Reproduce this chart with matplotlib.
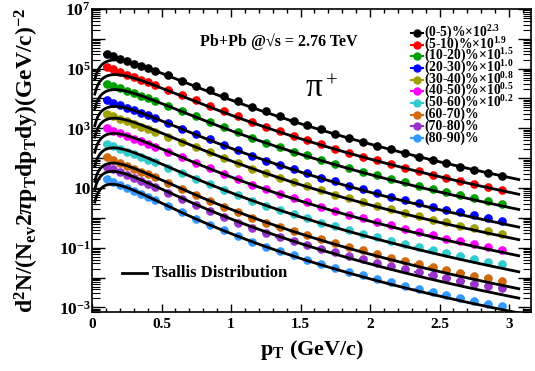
import numpy as np
import matplotlib
matplotlib.use('Agg')
import matplotlib.pyplot as plt
from matplotlib.ticker import LogLocator, MultipleLocator, FuncFormatter

plt.rcParams['font.family'] = 'Liberation Serif'
plt.rcParams['font.weight'] = 'bold'
plt.rcParams['axes.labelweight'] = 'bold'
plt.rcParams['mathtext.fontset'] = 'custom'
plt.rcParams['mathtext.rm'] = 'Liberation Serif:bold'
plt.rcParams['mathtext.bf'] = 'Liberation Serif:bold'
plt.rcParams['mathtext.it'] = 'Liberation Serif:bold:italic'

# pT bin centres (GeV/c)
pt = [0.11, 0.15, 0.20, 0.25, 0.30, 0.35, 0.40, 0.45, 0.55, 0.65, 0.75, 0.85, 0.95,
      1.05, 1.15, 1.25, 1.35, 1.45, 1.55, 1.65, 1.75, 1.85, 1.95, 2.05, 2.15, 2.25,
      2.35, 2.45, 2.55, 2.65, 2.75, 2.85, 2.95]

# log10 of the unscaled yields, one list per centrality class
y_0_5 = [3.18, 3.11, 3.03, 2.95, 2.87, 2.79, 2.71, 2.63, 2.47, 2.30, 2.13, 1.97, 1.79, 1.61, 1.43,
         1.27, 1.11, 0.96, 0.81, 0.67, 0.52, 0.38, 0.25, 0.12, -0.01, -0.13, -0.25, -0.37, -0.47,
         -0.59, -0.69, -0.79, -0.89]
y_5_10 = [3.14, 3.07, 2.98, 2.90, 2.81, 2.73, 2.64, 2.56, 2.39, 2.21, 2.04, 1.86, 1.69, 1.50, 1.32,
          1.16, 1.00, 0.85, 0.71, 0.56, 0.42, 0.28, 0.15, 0.03, -0.10, -0.22, -0.34, -0.46, -0.56,
          -0.67, -0.77, -0.87, -0.97]
y_10_20 = [3.00, 2.93, 2.84, 2.76, 2.67, 2.59, 2.50, 2.42, 2.25, 2.07, 1.90, 1.72, 1.55, 1.36, 1.18,
           1.02, 0.87, 0.72, 0.59, 0.44, 0.31, 0.17, 0.04, -0.07, -0.20, -0.31, -0.43, -0.54, -0.64,
           -0.74, -0.84, -0.93, -1.03]
y_20_30 = [2.94, 2.86, 2.78, 2.69, 2.60, 2.52, 2.43, 2.34, 2.17, 1.99, 1.81, 1.63, 1.45, 1.27, 1.08,
           0.92, 0.78, 0.63, 0.49, 0.35, 0.22, 0.08, -0.04, -0.16, -0.29, -0.40, -0.51, -0.62, -0.73,
           -0.82, -0.92, -1.01, -1.10]
y_30_40 = [2.67, 2.60, 2.51, 2.43, 2.34, 2.26, 2.17, 2.09, 1.92, 1.74, 1.57, 1.39, 1.22, 1.03, 0.85,
           0.70, 0.54, 0.40, 0.26, 0.12, -0.02, -0.15, -0.28, -0.39, -0.52, -0.63, -0.74, -0.86, -0.95,
           -1.06, -1.15, -1.25, -1.34]
y_40_50 = [2.50, 2.42, 2.33, 2.24, 2.15, 2.07, 1.98, 1.89, 1.71, 1.53, 1.34, 1.16, 0.98, 0.79, 0.61,
           0.45, 0.30, 0.16, 0.02, -0.12, -0.26, -0.39, -0.51, -0.64, -0.75, -0.87, -0.98, -1.09, -1.20,
           -1.29, -1.39, -1.48, -1.57]
y_50_60 = [2.29, 2.21, 2.12, 2.02, 1.93, 1.84, 1.75, 1.66, 1.48, 1.29, 1.10, 0.92, 0.74, 0.55, 0.36,
           0.21, 0.06, -0.08, -0.21, -0.36, -0.48, -0.61, -0.73, -0.85, -0.96, -1.08, -1.18, -1.29,
           -1.39, -1.49, -1.57, -1.67, -1.75]
y_60_70 = [2.03, 1.94, 1.85, 1.74, 1.65, 1.55, 1.46, 1.36, 1.17, 0.97, 0.76, 0.57, 0.38, 0.19, 0.00,
           -0.16, -0.30, -0.44, -0.58, -0.72, -0.85, -0.97, -1.09, -1.22, -1.33, -1.44, -1.54, -1.65,
           -1.76, -1.85, -1.94, -2.02, -2.11]
y_70_80 = [1.72, 1.63, 1.53, 1.43, 1.33, 1.23, 1.13, 1.03, 0.84, 0.63, 0.43, 0.23, 0.04, -0.16, -0.35,
           -0.50, -0.64, -0.77, -0.91, -1.04, -1.16, -1.28, -1.39, -1.50, -1.62, -1.73, -1.83, -1.93,
           -2.02, -2.11, -2.20, -2.28, -2.36]
y_80_90 = [1.29, 1.20, 1.10, 0.99, 0.89, 0.79, 0.69, 0.59, 0.39, 0.18, -0.03, -0.23, -0.42, -0.62,
           -0.81, -0.97, -1.12, -1.26, -1.40, -1.54, -1.67, -1.80, -1.92, -2.04, -2.16, -2.27, -2.38,
           -2.49, -2.59, -2.69, -2.78, -2.87, -2.96]

centralities = ['0-5', '5-10', '10-20', '20-30', '30-40', '40-50', '50-60', '60-70', '70-80', '80-90']
scale_exp = [2.3, 1.9, 1.5, 1.0, 0.8, 0.5, 0.2, 0, 0, 0]
series = [y_0_5, y_5_10, y_10_20, y_20_30, y_30_40, y_40_50, y_50_60, y_60_70, y_70_80, y_80_90]
colors = ['#000000', '#ff0000', '#00a000', '#0000ff', '#a0a000', '#ff00ff', '#33cccc',
          '#d06a10', '#9933cc', '#3399ff']

# Tsallis fit parameters per class
tsallis_T = [0.120, 0.118, 0.116, 0.113, 0.110, 0.107, 0.103, 0.099, 0.095, 0.090]
tsallis_q = [1.100, 1.102, 1.104, 1.106, 1.108, 1.110, 1.112, 1.114, 1.117, 1.120]
# log10 of the fitted (unscaled) yield at pT = 1.5 GeV/c
tsallis_level = [0.855, 0.75, 0.63, 0.535, 0.31, 0.065, -0.17, -0.535, -0.86, -1.36]

M_PI = 0.13957


def tsallis(p, T, q):
    mt = np.sqrt(p ** 2 + M_PI ** 2)
    return p * (1 + (q - 1) * mt / T) ** (-q / (q - 1))


fig = plt.figure(figsize=(5.35, 3.71), dpi=100)
ax = fig.add_axes([0.172, 0.159, 0.821, 0.817])

p_fit = np.linspace(0.02, 3.07, 300)
pt_arr = np.array(pt)
for i, vals in enumerate(series):
    yv = 10 ** (np.array(vals) + scale_exp[i])
    ax.errorbar(pt_arr, yv, xerr=0.03, fmt='o', color=colors[i], ms=5.2, mec=colors[i],
                elinewidth=1.6, capsize=0, zorder=2)
    T, q = tsallis_T[i], tsallis_q[i]
    norm = 10 ** (tsallis_level[i] + scale_exp[i]) / tsallis(1.5, T, q)
    ax.plot(p_fit, norm * tsallis(p_fit, T, q), color='black', lw=2.0, zorder=3)

    # legend row, ROOT style: marker with a short line through it
    ly = 0.921 - i * 0.0386
    ax.plot([0.727, 0.753], [ly, ly], color=colors[i], lw=1.5, transform=ax.transAxes,
            clip_on=False)
    ax.plot([0.740], [ly], 'o', color=colors[i], ms=5, transform=ax.transAxes, clip_on=False)
    if scale_exp[i] > 0:
        lab = r'(%s)%%$\times$10$^{%.1f}$' % (centralities[i], scale_exp[i])
    else:
        lab = '(%s)%%' % centralities[i]
    ax.text(0.756, ly, lab, transform=ax.transAxes, fontsize=9.8, va='center', ha='left')

ax.set_yscale('log')
ax.set_xlim(0, 3.16)
ax.set_ylim(7e-4, 1e7)

ax.xaxis.set_major_locator(MultipleLocator(0.5))
ax.xaxis.set_minor_locator(MultipleLocator(0.1))
ax.xaxis.set_major_formatter(FuncFormatter(lambda v, p: '%g' % v))
ax.yaxis.set_major_locator(LogLocator(base=10, numticks=30))
ax.yaxis.set_minor_locator(LogLocator(base=10, subs=np.arange(2, 10), numticks=100))


def yfmt(v, pos):
    e = int(round(np.log10(v)))
    if e % 2 == 0:
        return ''
    if e == 1:
        return '10'
    return r'$10^{%d}$' % e


ax.yaxis.set_major_formatter(FuncFormatter(yfmt))
ax.yaxis.set_minor_formatter(FuncFormatter(lambda v, p: ''))
ax.tick_params(axis='x', which='major', direction='in', length=6, width=1, top=True,
               labelsize=11, pad=4)
ax.tick_params(axis='x', which='minor', direction='in', length=3, width=1, top=True)
ax.tick_params(axis='y', which='major', direction='in', length=9.5, width=1, right=True,
               labelsize=12.5, pad=1)
ax.tick_params(axis='y', which='minor', direction='in', length=5.5, width=0.8, right=True)
for s in ax.spines.values():
    s.set_linewidth(1.2)

ax.set_xlabel(r'p$_{\mathrm{T}}$ (GeV/c)', fontsize=16, labelpad=5)
ax.set_ylabel(r'd$^{2}$N/(N$_{\mathrm{ev}}$2$\pi$p$_{\mathrm{T}}$dp$_{\mathrm{T}}$dy)(GeV/c)$^{-2}$',
              fontsize=17, labelpad=13)

ax.text(0.426, 0.891, 'Pb+Pb @\u221as = 2.76 TeV', transform=ax.transAxes,
        fontsize=11.5, ha='center', va='center')
# particle label in regular (non-bold) serif
ax.text(0.506, 0.739, '\u03c0', transform=ax.transAxes, fontsize=24, ha='center',
        va='center', fontweight='normal')
ax.text(0.546, 0.757, '+', transform=ax.transAxes, fontsize=15, ha='center',
        va='center', fontweight='normal')

# fit legend
ax.plot([0.068, 0.125], [0.129, 0.129], color='black', lw=2, transform=ax.transAxes)
ax.text(0.137, 0.129, 'Tsallis Distribution', transform=ax.transAxes, fontsize=12,
        va='center', ha='left')

fig.savefig('out.png', dpi=100)
